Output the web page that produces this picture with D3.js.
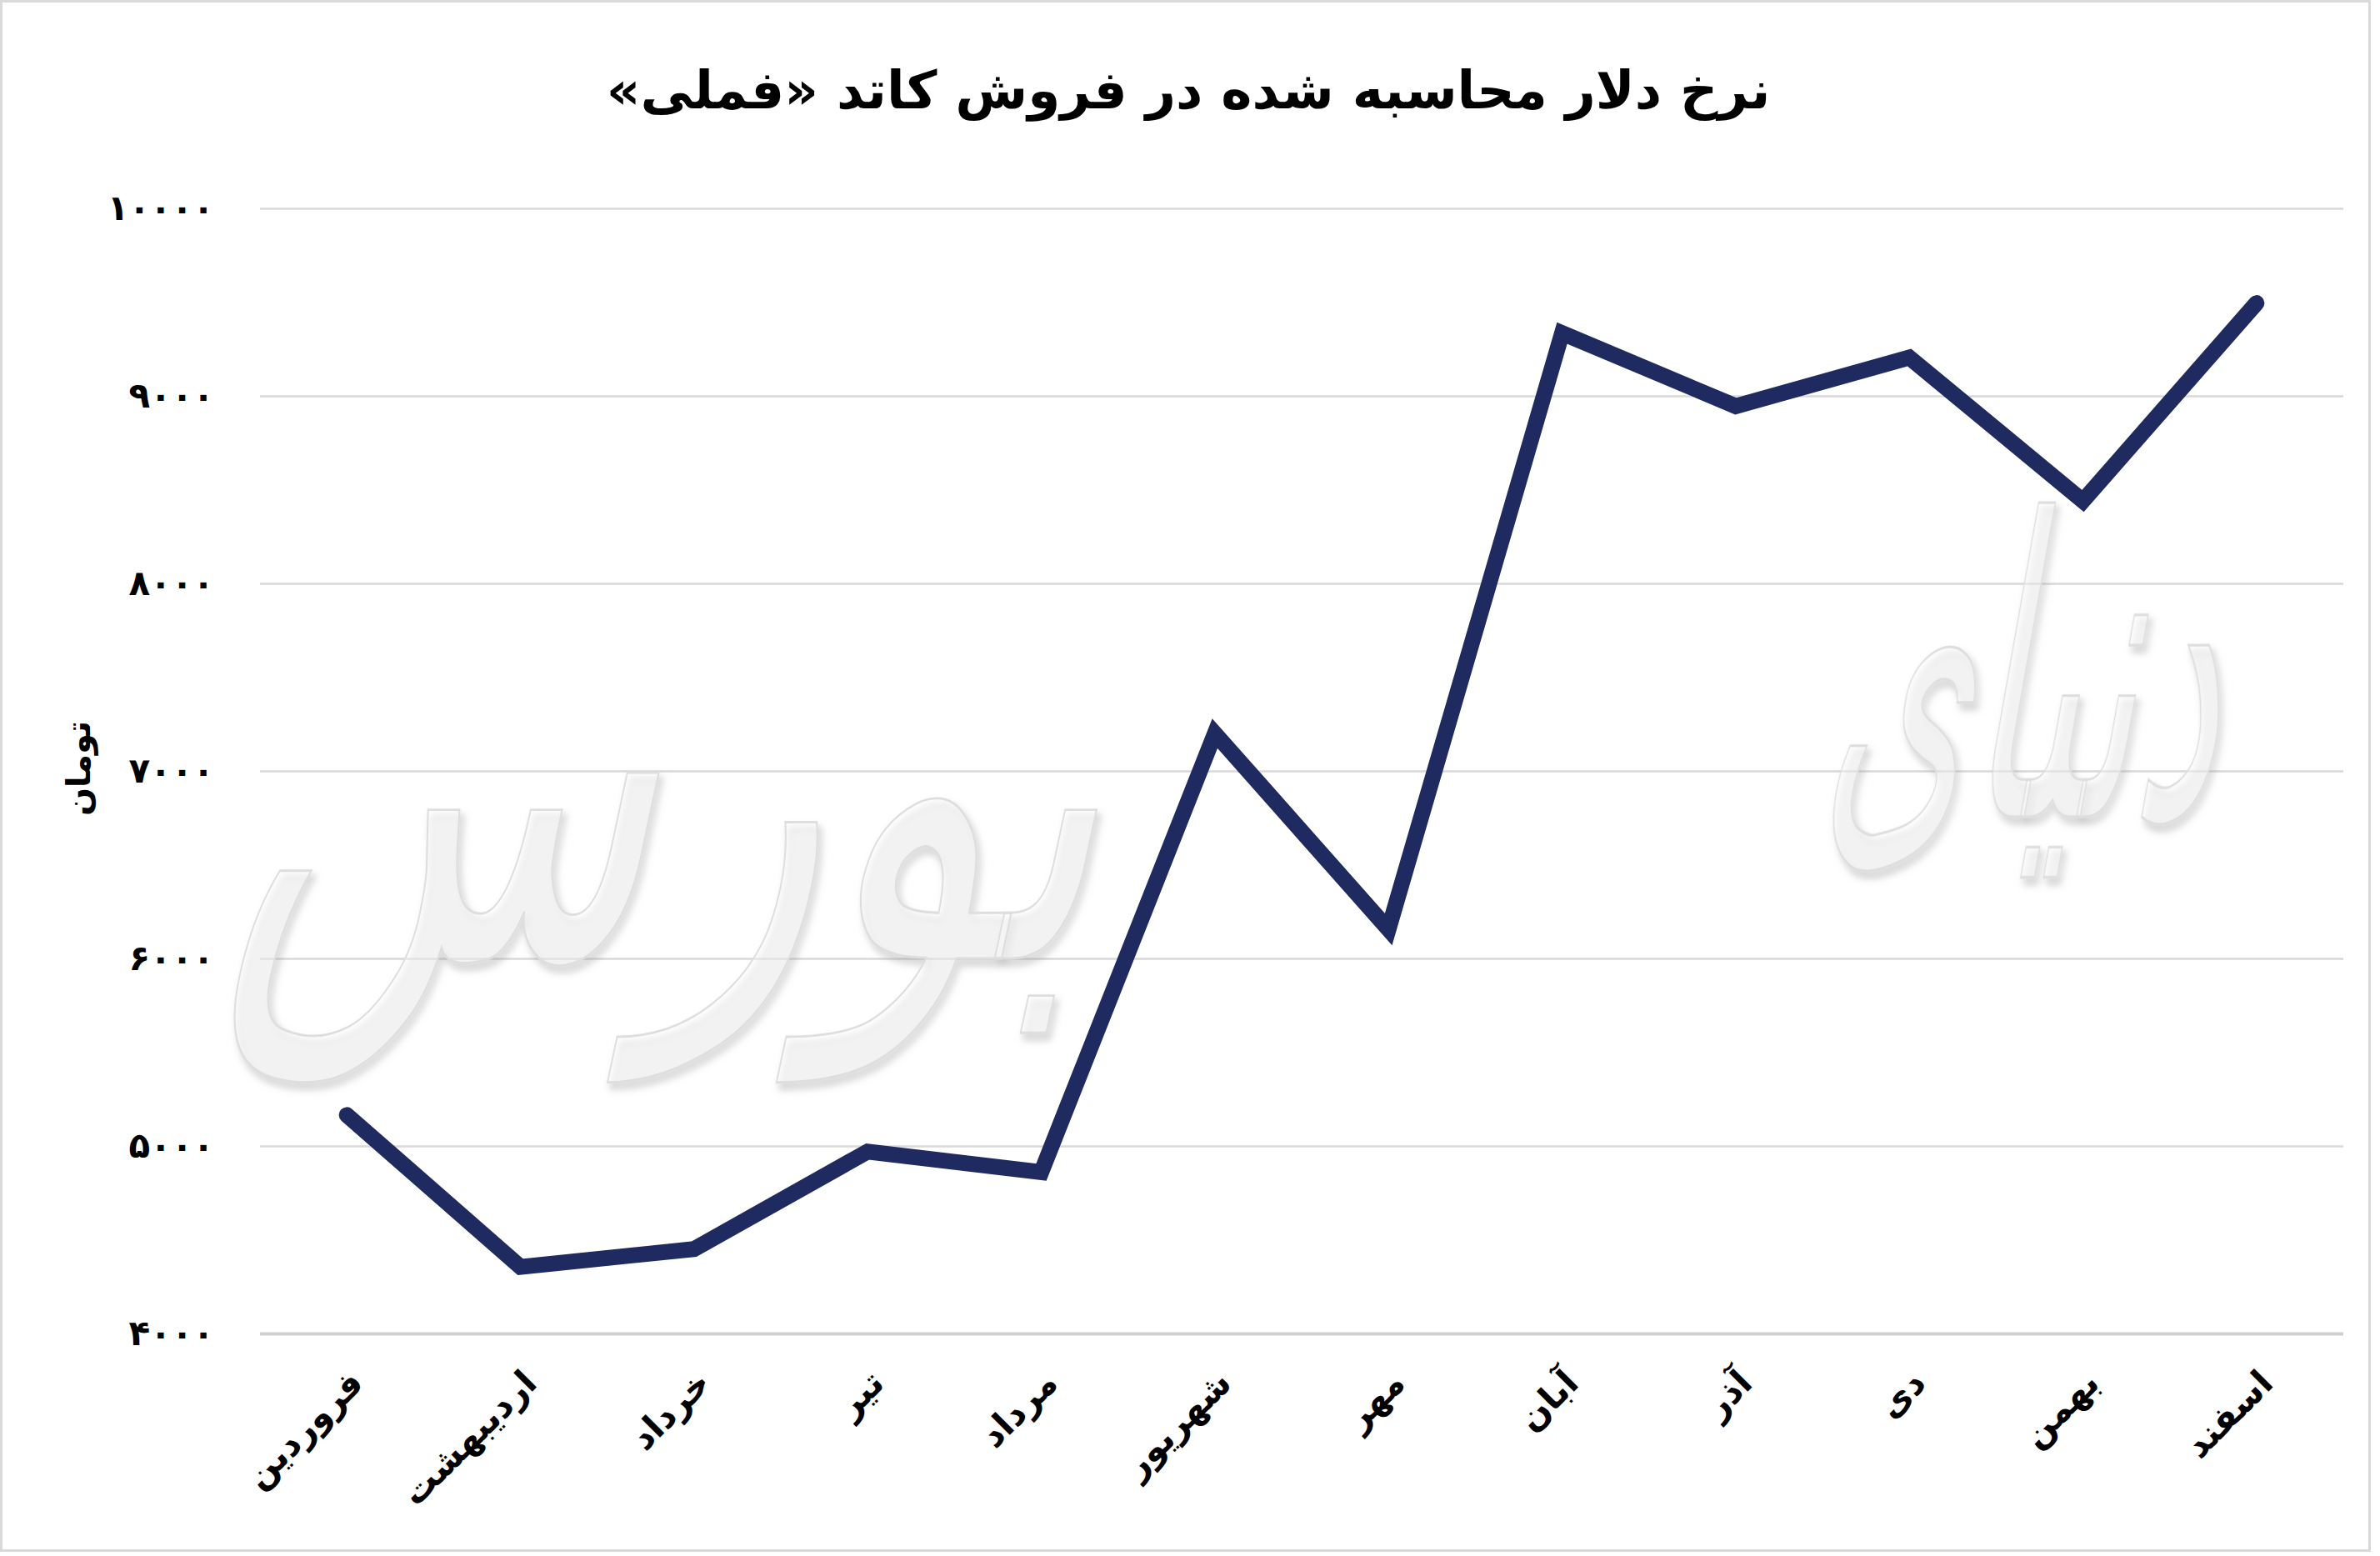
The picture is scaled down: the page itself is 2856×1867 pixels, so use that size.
<!DOCTYPE html>
<html>
<head>
<meta charset="utf-8">
<script src="https://cdn.jsdelivr.net/npm/d3@7"></script>
<style>
  html, body { margin: 0; padding: 0; background: #fff; }
  svg { display: block; }
  text { font-family: "DejaVu Sans", "Noto Sans", sans-serif; }
</style>
</head>
<body>
<svg id="chart"></svg>
<script>
// months (Persian calendar), left to right
const months = ['فروردین', 'اردیبهشت', 'خرداد', 'تیر', 'مرداد', 'شهریور', 'مهر', 'آبان', 'آذر', 'دی', 'بهمن', 'اسفند']
// dollar rate used in cathode sales, toman
const rates = [5165, 4355, 4450, 4970, 4860, 7200, 6155, 9335, 8945, 9205, 8440, 9495]
const yTicks = [4000, 5000, 6000, 7000, 8000, 9000, 10000]
const title = 'نرخ دلار محاسبه شده در فروش کاتد «فملی»'
const yTitle = 'تومان'

const width = 2856, height = 1867
const margin = { top: 250, right: 44, bottom: 267, left: 312 }
const faDigits = '۰۱۲۳۴۵۶۷۸۹'
const toFa = s => String(s).replace(/\d/g, d => faDigits[d])

const svg = d3.select('#chart').attr('width', width).attr('height', height)

// outer frame
svg.append('rect')
  .attr('x', 1.5).attr('y', 1.5)
  .attr('width', width - 14).attr('height', height - 8)
  .attr('fill', '#fff').attr('stroke', '#d9d9d9').attr('stroke-width', 3)

const x = d3.scaleBand().domain(months).range([margin.left, width - margin.right]).padding(0)
const y = d3.scaleLinear().domain([4000, 10000]).range([height - margin.bottom, margin.top])

// title
svg.append('text')
  .attr('x', 1426).attr('y', 130)
  .attr('text-anchor', 'middle')
  .attr('direction', 'rtl')
  .attr('font-size', 63).attr('font-weight', 'bold')
  .text(title)

// gridlines
const yAxis = d3.axisLeft(y).tickValues(yTicks)
  .tickSize(-(width - margin.right - margin.left))
  .tickPadding(55)
  .tickFormat(d => toFa(d))
const gy = svg.append('g').attr('transform', `translate(${margin.left},0)`).call(yAxis)
gy.select('.domain').remove()
gy.selectAll('.tick line').attr('stroke', '#d9d9d9').attr('stroke-width', 2.5)
gy.selectAll('.tick').filter(d => d === 4000).select('line').attr('stroke', '#cfcfcf').attr('stroke-width', 4)
gy.selectAll('.tick text')
  .attr('font-size', 42).attr('font-weight', 'bold').attr('fill', '#000')
  .attr('font-family', '"DejaVu Sans", sans-serif')

// y title
svg.append('text')
  .attr('transform', 'translate(108,922) rotate(-90)')
  .attr('text-anchor', 'middle')
  .attr('font-size', 40).attr('font-weight', 'bold')
  .text(yTitle)

// x labels
const xAxis = d3.axisBottom(x).tickSize(0).tickFormat(d => d)
const gx = svg.append('g').attr('transform', `translate(0,${height - margin.bottom})`).call(xAxis)
gx.select('.domain').remove()
gx.selectAll('.tick text')
  .attr('font-size', 42).attr('font-weight', 'bold').attr('fill', '#000')
  .attr('font-family', '"DejaVu Sans", sans-serif')
  .attr('text-anchor', 'end')
  .attr('dy', null)
  .attr('transform', 'translate(22,62) rotate(-45)')
  .attr('y', 0).attr('x', 0)

// line
const line = d3.line()
  .x((d, i) => x(months[i]) + x.bandwidth() / 2)
  .y(d => y(d))
svg.append('path')
  .datum(rates)
  .attr('d', line)
  .attr('fill', 'none')
  .attr('stroke', '#1f2a60')
  .attr('stroke-width', 19)
  .attr('stroke-linejoin', 'miter')
  .attr('stroke-linecap', 'round')

// watermark
const defs = svg.append('defs')
const f = defs.append('filter').attr('id', 'wm').attr('x', '-10%').attr('y', '-10%').attr('width', '130%').attr('height', '130%')
f.append('feDropShadow').attr('dx', 4).attr('dy', 7).attr('stdDeviation', 4)
  .attr('flood-color', '#8a8a8a').attr('flood-opacity', 0.6)
const wm = svg.append('g').attr('filter', 'url(#wm)')
  .attr('fill', '#fff').attr('fill-opacity', 0.4)
  .attr('stroke', '#dedede').attr('stroke-width', 2)
wm.append('text')
  .attr('transform', 'translate(790,1150) skewX(-12) scale(1,1.45)')
  .attr('text-anchor', 'middle')
  .attr('font-size', 420)
  .text('بورس')
wm.append('text')
  .attr('transform', 'translate(2420,980) skewX(-10) scale(0.72,1.6)')
  .attr('text-anchor', 'middle')
  .attr('font-size', 310)
  .text('دنیای')
</script>
</body>
</html>
